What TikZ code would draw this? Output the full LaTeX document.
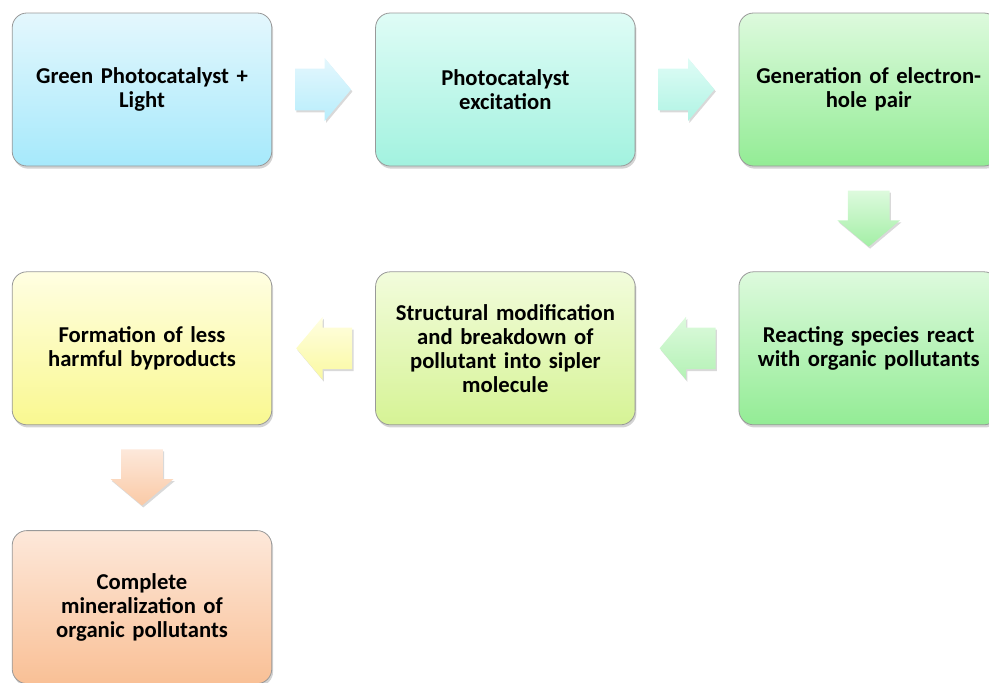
\documentclass[tikz,border=0pt]{standalone}
\usepackage{fontspec}
\setmainfont{Carlito}
\usetikzlibrary{shapes.arrows,shadows,positioning,calc}
\definecolor{blueT}{HTML}{E4F7FD}\definecolor{blueB}{HTML}{A6E9FB}
\definecolor{mintT}{HTML}{DFFCF6}\definecolor{mintB}{HTML}{A2F2DF}
\definecolor{greenT}{HTML}{DDFADD}\definecolor{greenB}{HTML}{93EC95}
\definecolor{limeT}{HTML}{F2FCDC}\definecolor{limeB}{HTML}{D6F395}
\definecolor{yellT}{HTML}{FFFEE2}\definecolor{yellB}{HTML}{F9F890}
\definecolor{orT}{HTML}{FDE8DA}\definecolor{orB}{HTML}{F9C096}
\tikzstyle{stage}=[rectangle,rounded corners=11pt,draw=gray!80,line width=0.6pt,minimum width=193.5pt,minimum height=114.75pt,text width=188pt,align=center,font=\fontsize{17}{18}\selectfont\bfseries,drop shadow={shadow xshift=1pt,shadow yshift=-2pt,opacity=0.35}]
\tikzstyle{flow}=[single arrow,single arrow head extend=8pt,single arrow tip angle=100,minimum height=42pt,inner xsep=0pt,inner ysep=15.4pt,anchor=tail,draw=none,drop shadow={shadow xshift=1pt,shadow yshift=-1.5pt,opacity=0.3}]
\tikzstyle{downflow}=[flow,shape border rotate=270,inner xsep=15.4pt,inner ysep=0pt]
\tikzstyle{backflow}=[flow,shape border rotate=180]

\begin{document}
\begin{tikzpicture}

    \useasboundingbox (0,0) rectangle (741.75pt,-511.5pt);
    \clip (0,0) rectangle (741.75pt,-511.5pt);

    % Boxes
    \node[stage,top color=blueT,bottom color=blueB] (gp) at (106.5pt,-67.125pt) {Green Photocatalyst +\\Light};
    \node[stage,top color=mintT,bottom color=mintB] (pe) [right=77.25pt of gp] {Photocatalyst\\excitation};
    \node[stage,top color=greenT,bottom color=greenB] (eh) [right=77.25pt of pe] {Generation of electron-\\hole pair};
    \node[stage,top color=greenT,bottom color=greenB] (rs) [below=78.75pt of eh] {Reacting species react\\with organic pollutants};
    \node[stage,top color=limeT,bottom color=limeB] (sm) [below=78.75pt of pe] {Structural modification\\and breakdown of\\pollutant into sipler\\molecule};
    \node[stage,top color=yellT,bottom color=yellB] (hb) [below=78.75pt of gp] {Formation of less\\harmful byproducts};
    \node[stage,top color=orT,bottom color=orB] (cm) [below=78.75pt of hb] {Complete\\mineralization of\\organic pollutants};

    % Arrows
    \node[flow,top color=blueT,bottom color=blueB!80] (a1) at ($(gp.east)!17pt!(pe.west)$) {};
    \node[flow,top color=mintT,bottom color=mintB!85] (a2) at ($(pe.east)!17pt!(eh.west)$) {};
    \node[downflow,top color=greenT,bottom color=greenB!85] (a3) at ($(eh.south)!18pt!(rs.north)$) {};
    \node[backflow,top color=greenT,bottom color=greenB!70] (a4) at ($(rs.west)!17pt!(sm.east)$) {};
    \node[backflow,top color=yellT,bottom color=yellB!85] (a5) at ($(sm.west)!17pt!(hb.east)$) {};
    \node[downflow,top color=orT,bottom color=orB!85] (a6) at ($(hb.south)!18pt!(cm.north)$) {};

\end{tikzpicture}
\end{document}
